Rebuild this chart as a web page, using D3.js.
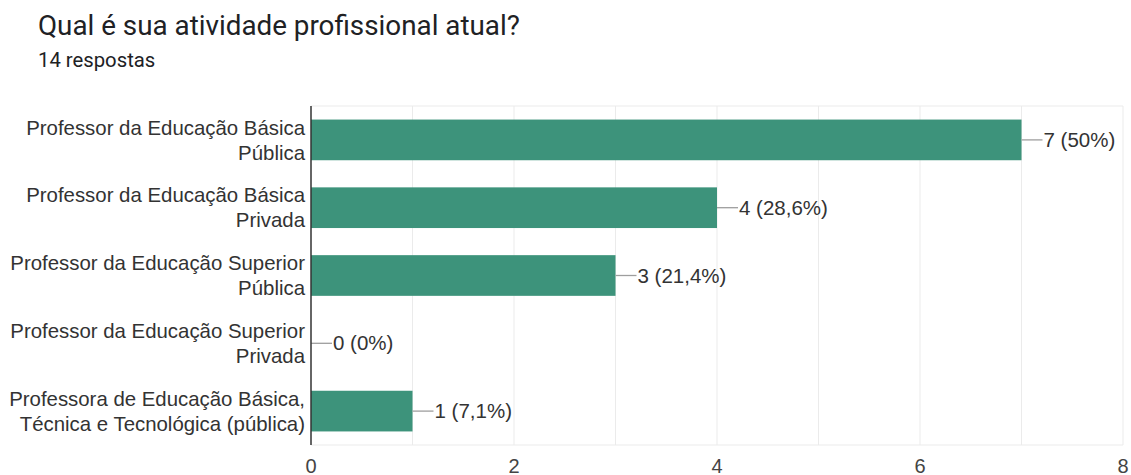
<!DOCTYPE html>
<html>
<head>
<meta charset="utf-8">
<script src="https://cdn.jsdelivr.net/npm/d3@7"></script>
<style>
  body { margin: 0; background: #fff; font-family: "Liberation Sans", Arial, sans-serif; }
</style>
</head>
<body>
<div id="chart"></div>
<script>
const categories = [
  ["Professor da Educação Básica", "Pública"],
  ["Professor da Educação Básica", "Privada"],
  ["Professor da Educação Superior", "Pública"],
  ["Professor da Educação Superior", "Privada"],
  ["Professora de Educação Básica,", "Técnica e Tecnológica (pública)"]
];
const counts = [7, 4, 3, 0, 1];
const percents = ["50%", "28,6%", "21,4%", "0%", "7,1%"];
const xTicks = [0, 2, 4, 6, 8];

const W = 1131, H = 475;
const margin = { top: 106, right: 8, bottom: 30, left: 311 };
const innerW = 1123 - margin.left;
const innerH = 445 - margin.top;

const svg = d3.select("#chart").append("svg")
  .attr("width", W)
  .attr("height", H);

svg.append("text")
  .attr("x", 38).attr("y", 35)
  .attr("font-family", "Roboto, sans-serif")
  .attr("font-size", 27.8).attr("fill", "#202124")
  .text("Qual é sua atividade profissional atual?");
svg.append("text")
  .attr("x", 38).attr("y", 67)
  .attr("font-family", "Roboto, sans-serif")
  .attr("font-size", 20.3).attr("fill", "#202124")
  .text("14 respostas");

const g = svg.append("g")
  .attr("transform", `translate(${margin.left},${margin.top})`);

const x = d3.scaleLinear().domain([0, 8]).range([0, innerW]);
const y = d3.scaleBand()
  .domain(d3.range(categories.length))
  .range([0, innerH])
  .paddingInner(0.4)
  .paddingOuter(0.2);

// grid
g.selectAll(".grid")
  .data(d3.range(1, 9))
  .enter().append("line")
  .attr("x1", d => x(d)).attr("x2", d => x(d))
  .attr("y1", 0).attr("y2", innerH)
  .attr("stroke", "#ebebeb");
g.append("line")
  .attr("x1", 0).attr("x2", innerW)
  .attr("y1", 0).attr("y2", 0)
  .attr("stroke", "#ebebeb");
g.append("line")
  .attr("x1", 0).attr("x2", innerW)
  .attr("y1", innerH).attr("y2", innerH)
  .attr("stroke", "#ebebeb");

// bars
g.selectAll(".bar")
  .data(counts)
  .enter().append("rect")
  .attr("x", 0)
  .attr("y", (d, i) => y(i))
  .attr("width", d => x(d))
  .attr("height", y.bandwidth())
  .attr("fill", "#3d937b");

// value labels with leader line
counts.forEach((d, i) => {
  const cy = y(i) + y.bandwidth() / 2;
  g.append("line")
    .attr("x1", x(d)).attr("x2", x(d) + 21)
    .attr("y1", cy).attr("y2", cy)
    .attr("stroke", "#9e9e9e").attr("stroke-width", 1.3);
  g.append("text")
    .attr("x", x(d) + 22).attr("y", cy)
    .attr("dy", "0.35em")
    .attr("font-size", 20.5).attr("fill", "#333")
    .text(`${d} (${percents[i]})`);
});

// category labels
categories.forEach((lines, i) => {
  const cy = y(i) + y.bandwidth() / 2;
  const t = g.append("text")
    .attr("text-anchor", "end")
    .attr("font-size", 20.4).attr("fill", "#333");
  lines.forEach((ln, j) => {
    t.append("tspan")
      .attr("x", -6)
      .attr("y", cy + (j - (lines.length - 1) / 2) * 25)
      .attr("dy", "0.35em")
      .text(ln);
  });
});

// axis line
g.append("line")
  .attr("x1", 0).attr("x2", 0)
  .attr("y1", 0).attr("y2", innerH)
  .attr("stroke", "#333").attr("stroke-width", 1.5);

// x tick labels
g.selectAll(".tick")
  .data(xTicks)
  .enter().append("text")
  .attr("x", d => x(d))
  .attr("y", innerH + 28)
  .attr("text-anchor", "middle")
  .attr("font-size", 20).attr("fill", "#444")
  .text(d => d);
</script>
</body>
</html>
